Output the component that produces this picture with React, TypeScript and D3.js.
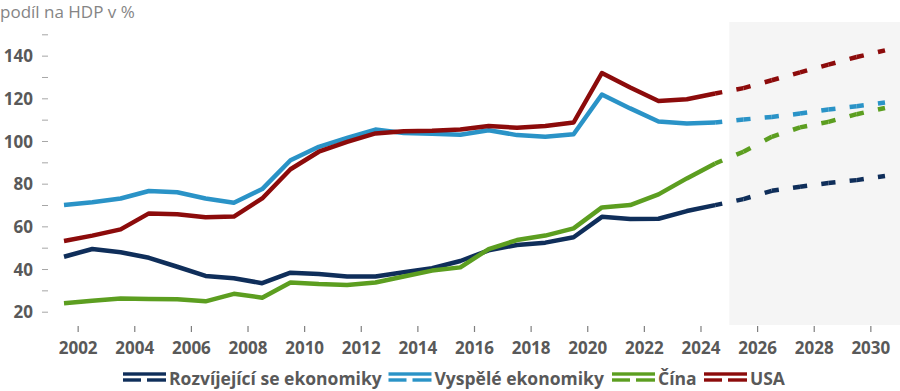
import React from "react";
import * as d3 from "d3";

const years = [2001, 2002, 2003, 2004, 2005, 2006, 2007, 2008, 2009, 2010, 2011, 2012, 2013, 2014, 2015, 2016, 2017, 2018, 2019, 2020, 2021, 2022, 2023, 2024];
const projYears = [2024, 2025, 2026, 2027, 2028, 2029, 2030];
const tickYears = [2002, 2004, 2006, 2008, 2010, 2012, 2014, 2016, 2018, 2020, 2022, 2024, 2026, 2028, 2030];
const yMajor = [20, 40, 60, 80, 100, 120, 140];
const yMinor = [30, 50, 70, 90, 110, 130, 150];

const emerging = [46.0, 49.6, 48.1, 45.5, 41.3, 37.0, 35.9, 33.6, 38.5, 37.9, 36.7, 36.7, 38.7, 40.6, 44.0, 49.0, 51.5, 52.6, 55.1, 64.7, 63.7, 63.8, 67.4, 70.2];
const emergingProj = [70.2, 73.0, 76.9, 78.8, 80.5, 81.9, 83.8];
const advanced = [70.2, 71.5, 73.3, 76.8, 76.2, 73.3, 71.3, 77.7, 91.2, 97.5, 101.7, 105.6, 104.0, 103.6, 103.2, 105.3, 103.0, 102.2, 103.4, 122.0, 115.5, 109.4, 108.4, 108.9];
const advancedProj = [108.9, 110.3, 111.5, 113.1, 115.0, 116.5, 118.3];
const china = [24.2, 25.4, 26.4, 26.2, 26.1, 25.1, 28.6, 26.8, 33.9, 33.2, 32.8, 33.9, 36.7, 39.5, 41.0, 49.6, 53.8, 55.9, 59.3, 69.1, 70.2, 75.2, 82.7, 89.7];
const chinaProj = [89.7, 95.2, 102.2, 106.6, 109.2, 112.8, 115.7];
const usa = [53.4, 55.9, 58.8, 66.3, 65.9, 64.5, 64.8, 73.3, 87.0, 95.2, 99.8, 103.8, 104.8, 105.0, 105.6, 107.3, 106.4, 107.3, 108.9, 132.1, 125.3, 119.0, 119.8, 122.5];
const usaProj = [122.5, 125.0, 128.7, 132.4, 136.0, 139.6, 142.7];

const seriesNames = ["Rozvíjející se ekonomiky", "Vyspělé ekonomiky", "Čína", "USA"];
const seriesColors = ["#0f2e5a", "#2a93c7", "#5c9e20", "#8c0b0b"];
const seriesData = [emerging, advanced, china, usa];
const seriesProj = [emergingProj, advancedProj, chinaProj, usaProj];

const W = 900;
const H = 391;
const FONT = "'Open Sans', 'DejaVu Sans', sans-serif";
const TXT = "#595959";

export default function App() {
  const x = d3.scaleLinear().domain([2001, 2030]).range([64, 885]);
  const y = d3.scaleLinear().domain([14, 156]).range([325, 22]);
  const line = d3
    .line<[number, number]>()
    .x((d) => x(d[0]))
    .y((d) => y(d[1]));

  const legendX = [123, 388.5, 612, 704];

  return (
    <div style={{ position: "fixed", left: 0, top: 0, width: W, height: H, background: "#fff" }}>
      <svg width={W} height={H} style={{ display: "block" }} fontFamily={FONT}>
        <rect x={x(2024.5)} y={y(156)} width={W - x(2024.5)} height={y(14) - y(156)} fill="#f5f5f5" />

        <text x={0} y={18} fontSize={17} fill="#858585" fontWeight={400}>
          podíl na HDP v %
        </text>

        {yMajor.concat(yMinor).map((v) => (
          <line key={"yt" + v} x1={42} x2={48} y1={y(v)} y2={y(v)} stroke="#a6a6a6" strokeWidth={1} />
        ))}
        {yMajor.map((v) => (
          <text key={"yl" + v} x={33} y={y(v)} dy="0.36em" textAnchor="end" fontSize={17} fontWeight={700} fill={TXT}>
            {v}
          </text>
        ))}

        {tickYears.map((t) => (
          <g key={"xt" + t}>
            <line x1={x(t - 0.5)} x2={x(t - 0.5)} y1={326} y2={332} stroke="#7f7f7f" strokeWidth={1.2} />
            <text x={x(t - 0.5)} y={354} textAnchor="middle" fontSize={17} fontWeight={700} fill={TXT}>
              {t}
            </text>
          </g>
        ))}

        {seriesData.map((vals, i) => (
          <path
            key={"s" + i}
            d={line(years.map((yr, j) => [yr, vals[j]] as [number, number])) || ""}
            fill="none"
            stroke={seriesColors[i]}
            strokeWidth={4.5}
            strokeLinejoin="round"
          />
        ))}

        {seriesProj.map((vals, i) =>
          projYears.slice(0, -1).map((yr, j) => {
            const x0 = x(yr), y0 = y(vals[j]);
            const x1 = x(projYears[j + 1]), y1 = y(vals[j + 1]);
            const L = Math.hypot(x1 - x0, y1 - y0);
            return (
              <path
                key={"p" + i + "-" + j}
                d={line([[yr, vals[j]], [projYears[j + 1], vals[j + 1]]]) || ""}
                fill="none"
                stroke={seriesColors[i]}
                strokeWidth={4.5}
                strokeDasharray={`${L / 4} ${L / 2} ${L / 4}`}
              />
            );
          })
        )}

        {seriesNames.map((name, i) => {
          const lx = legendX[i];
          return (
            <g key={"lg" + i}>
              <rect x={lx} y={372.3} width={43} height={3.4} fill={seriesColors[i]} />
              <rect x={lx} y={378.3} width={18} height={3.4} fill={seriesColors[i]} />
              <rect x={lx + 24} y={378.3} width={19} height={3.4} fill={seriesColors[i]} />
              <text x={lx + 46} y={385} fontSize={17.5} fontWeight={700} fill={TXT}>
                {name}
              </text>
            </g>
          );
        })}
      </svg>
    </div>
  );
}
